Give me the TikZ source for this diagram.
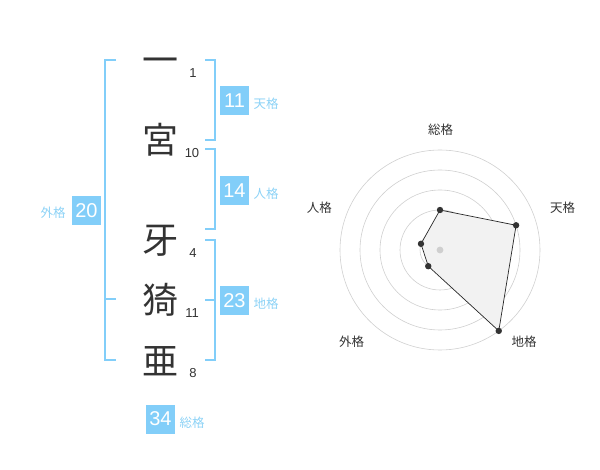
\documentclass[tikz,border=0pt]{standalone}
\usepackage{fontspec}
\setmainfont{Liberation Sans}
\newfontfamily\jpfont{Noto Sans CJK JP}
\usetikzlibrary{calc}

\definecolor{kakublue}{HTML}{82CEF9}
\definecolor{kakutext}{HTML}{8CD2F6}
\definecolor{inkgray}{HTML}{333333}
\definecolor{ringgray}{HTML}{CFCFCF}

\begin{document}
\begin{tikzpicture}[x=1pt, y=-1pt,
    kanji/.style={text=inkgray, inner sep=0pt, font=\jpfont\fontsize{36}{36}\selectfont},
    stroke/.style={text=inkgray, inner sep=0pt, font=\fontsize{13}{13}\selectfont},
    kakubox/.style={fill=kakublue, text=white, minimum size=29pt, inner sep=0pt, font=\fontsize{20}{20}\selectfont},
    kakuname/.style={text=kakutext, inner sep=0pt, font=\jpfont\fontsize{12.5}{12.5}\selectfont},
    axisname/.style={text=inkgray, inner sep=0pt, font=\jpfont\fontsize{12.5}{12.5}\selectfont},
    bracket/.style={draw=kakublue, line width=2pt}]
    \useasboundingbox (0,0) rectangle (600,470);

    % name column
    \node[kanji] (k1) at (160,65.5) {一};
    \node[kanji] (k2) at (160,140) {宮};
    \node[kanji] (k3) at (160,241) {牙};
    \node[kanji] (k4) at (160,300) {猗};
    \node[kanji] (k5) at (160,361) {亜};

    \node[stroke] (s1) at (193,73) {1};
    \node[stroke] (s2) at (192,153) {10};
    \node[stroke] (s3) at (193,253) {4};
    \node[stroke] (s4) at (192,313) {11};
    \node[stroke] (s5) at (193,373) {8};

    % brackets
    \draw[bracket] (116,60) -- (105,60) -- (105,360) -- (116,360);
    \draw[bracket] (105,299) -- (116,299);
    \draw[bracket] (205,60) -- (215,60) -- (215,140) -- (205,140);
    \draw[bracket] (205,149) -- (215,149) -- (215,229) -- (205,229);
    \draw[bracket] (205,240) -- (215,240) -- (215,360) -- (205,360);
    \draw[bracket] (205,300) -- (215,300);

    % kaku values
    \node[kakubox] (ten) at (234.5,100.5) {11};
    \node[kakuname] at (266,104) {天格};
    \node[kakubox] (jin) at (234.5,190.5) {14};
    \node[kakuname] at (266,194) {人格};
    \node[kakubox] (chi) at (234.5,300.5) {23};
    \node[kakuname] at (266,304) {地格};
    \node[kakubox] (gai) at (86.5,210.5) {20};
    \node[kakuname] at (53,213) {外格};
    \node[kakubox] (so) at (160.5,419) {34};
    \node[kakuname] at (192,423) {総格};

    % radar chart
    \coordinate (O) at (440,250);
    \foreach \r in {20,40,60,80,100}
        \draw[ringgray, line width=0.6pt] (O) circle (\r);

    \coordinate (P1) at ($(O)+(-90:40)$);
    \coordinate (P2) at ($(O)+(-18:80)$);
    \coordinate (P3) at ($(O)+(54:100)$);
    \coordinate (P4) at ($(O)+(126:20)$);
    \coordinate (P5) at ($(O)+(198:20)$);

    \fill[black!5] (P1) -- (P2) -- (P3) -- (P4) -- (P5) -- cycle;
    \draw[black!85, line width=0.7pt] (P1) -- (P2) -- (P3) -- (P4) -- (P5) -- cycle;
    \fill[ringgray] (O) circle (3.4);
    \foreach \p in {P1,P2,P3,P4,P5}
        \fill[inkgray] (\p) circle (3.2);

    \node[axisname] at (440.7,130) {総格};
    \node[axisname] at (562.7,208) {天格};
    \node[axisname] at (319.3,208) {人格};
    \node[axisname] at (351.7,342) {外格};
    \node[axisname] at (524,342) {地格};
\end{tikzpicture}
\end{document}
